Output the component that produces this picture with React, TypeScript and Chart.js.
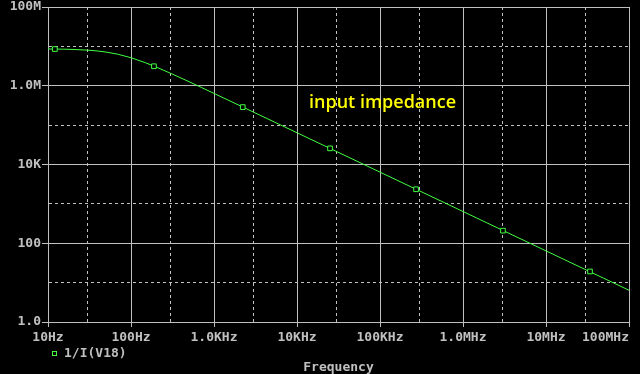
import React, { useEffect, useRef } from "react";
import { Chart, registerables } from "chart.js";

Chart.register(...registerables);

// Curve 1/I(V18) (frequency in Hz, impedance in ohms)
const freqHz = [10, 15, 20, 30, 40, 50, 70, 100, 150, 200, 300, 500, 700, 1e3, 2e3, 5e3, 1e4, 2e4, 5e4, 1e5, 2e5, 5e5, 1e6, 2e6, 5e6, 1e7, 2e7, 5e7, 1e8];
const impedance = [8.6e6, 8.5e6, 8.36e6, 8.02e6, 7.62e6, 7.17e6, 6.29e6, 5.15e6, 3.83e6, 3.0e6, 2.07e6, 1.27e6, 9.1e5, 6.38e5, 3.2e5, 1.28e5, 6.4e4, 3.2e4, 1.28e4, 6.4e3, 3.2e3, 1.28e3, 640, 320, 128, 64, 32, 12.8, 6.4];

// Marker squares along the trace
const markerFreqHz = [12.1, 189, 2220, 25000, 272000, 3.03e6, 3.39e7];
const markerImpedance = [8.55e6, 3.13e6, 2.87e5, 2.57e4, 2.35e3, 209, 19.2];

// Axis ticks
const xMajorTicks = [10, 100, 1e3, 1e4, 1e5, 1e6, 1e7, 1e8];
const xTickLabels = ["10Hz", "100Hz", "1.0KHz", "10KHz", "100KHz", "1.0MHz", "10MHz", "100MHz      "];
const xMinorTicks = [30, 300, 3e3, 3e4, 3e5, 3e6, 3e7];
const yMajorTicks = [1, 100, 1e4, 1e6, 1e8];
const yTickLabels = ["1.0", "100", "10K", "1.0M", "100M"];
const yMinorTicks = [10, 1e3, 1e5, 1e7];

const GRID = "#c0c0c0";
const GREEN = "#40ff40";
const FONT_FAMILY = "'DejaVu Sans Mono', monospace";

export default function App() {
  const canvasRef = useRef<HTMLCanvasElement | null>(null);

  useEffect(() => {
    document.body.style.margin = "0";
    document.body.style.background = "#000";
    const canvas = canvasRef.current;
    if (!canvas) return;

    const tickFont = { family: FONT_FAMILY, size: 13, weight: "bold" as const };

    const chart = new Chart(canvas, {
      type: "line",
      data: {
        datasets: [
          {
            label: "markers",
            data: markerFreqHz.map((f, i) => ({ x: f, y: markerImpedance[i] })),
            showLine: false,
            pointStyle: "rect",
            pointRadius: 3.3,
            pointBorderWidth: 1,
            pointBorderColor: GREEN,
            pointBackgroundColor: "#000",
            borderColor: GREEN,
          },
          {
            label: "1/I(V18)",
            data: freqHz.map((f, i) => ({ x: f, y: impedance[i] })),
            borderColor: GREEN,
            borderWidth: 1,
            pointRadius: 0,
            tension: 0,
          },
        ],
      },
      options: {
        animation: false,
        responsive: false,
        devicePixelRatio: 1,
        layout: { padding: { top: 7, right: 11, left: 0, bottom: 0 } },
        plugins: { legend: { display: false }, tooltip: { enabled: false } },
        scales: {
          x: {
            type: "logarithmic",
            min: 10,
            max: 1e8,
            afterBuildTicks: (scale: any) => {
              scale.ticks = [...xMajorTicks, ...xMinorTicks].sort((a, b) => a - b).map((v) => ({ value: v }));
            },
            afterFit: (scale: any) => {
              scale.height = 52;
              scale.paddingLeft = 0;
              scale.paddingRight = 0;
            },
            ticks: {
              autoSkip: false,
              maxRotation: 0,
              minRotation: 0,
              padding: 3,
              color: GRID,
              font: tickFont,
              callback: (value: any) => {
                const i = xMajorTicks.indexOf(Number(value));
                return i >= 0 ? xTickLabels[i] : "";
              },
            },
            grid: {
              color: GRID,
              lineWidth: 1,
              tickLength: 5,
              tickColor: (ctx: any) => (ctx.tick && xMinorTicks.includes(ctx.tick.value) ? "rgba(0,0,0,0)" : GRID),
            },
            border: {
              display: true,
              color: GRID,
              dash: (ctx: any) => (ctx.tick && xMinorTicks.includes(ctx.tick.value) ? [3, 3] : []),
            },
            title: {
              display: true,
              text: "Frequency",
              color: GRID,
              font: tickFont,
              padding: { top: 0, bottom: -1 },
            },
          },
          y: {
            type: "logarithmic",
            min: 1,
            max: 1e8,
            afterBuildTicks: (scale: any) => {
              scale.ticks = [...yMajorTicks, ...yMinorTicks].sort((a, b) => a - b).map((v) => ({ value: v }));
            },
            afterFit: (scale: any) => {
              scale.width = 48;
              scale.paddingTop = 0;
              scale.paddingBottom = 0;
            },
            ticks: {
              autoSkip: false,
              padding: 1,
              color: GRID,
              font: tickFont,
              callback: (value: any) => {
                const i = yMajorTicks.indexOf(Number(value));
                return i >= 0 ? yTickLabels[i] : "";
              },
            },
            grid: {
              color: GRID,
              lineWidth: 1,
              tickLength: 6,
              tickColor: (ctx: any) => (ctx.tick && yMinorTicks.includes(ctx.tick.value) ? "rgba(0,0,0,0)" : GRID),
            },
            border: {
              display: true,
              color: GRID,
              dash: (ctx: any) => (ctx.tick && yMinorTicks.includes(ctx.tick.value) ? [3, 3] : []),
            },
          },
        },
      },
    });

    return () => {
      chart.destroy();
    };
  }, []);

  return (
    <div style={{ position: "relative", width: 640, height: 374, background: "#000", overflow: "hidden" }}>
      <canvas ref={canvasRef} width={640} height={374} style={{ display: "block" }} />
      <div
        style={{
          position: "absolute",
          left: 309,
          top: 92,
          color: "#ffff00",
          fontFamily: "'Open Sans', sans-serif",
          fontWeight: 600,
          fontSize: "18px",
          lineHeight: "18px",
          whiteSpace: "nowrap",
        }}
      >
        input impedance
      </div>
      <div
        style={{
          position: "absolute",
          left: 52,
          top: 351,
          width: 5,
          height: 5,
          boxSizing: "border-box",
          border: `1px solid ${GREEN}`,
        }}
      />
      <div
        style={{
          position: "absolute",
          left: 64,
          top: 346,
          color: GRID,
          fontFamily: FONT_FAMILY,
          fontWeight: "bold",
          fontSize: "13px",
          lineHeight: "13px",
          whiteSpace: "nowrap",
        }}
      >
        1/I(V18)
      </div>
    </div>
  );
}
